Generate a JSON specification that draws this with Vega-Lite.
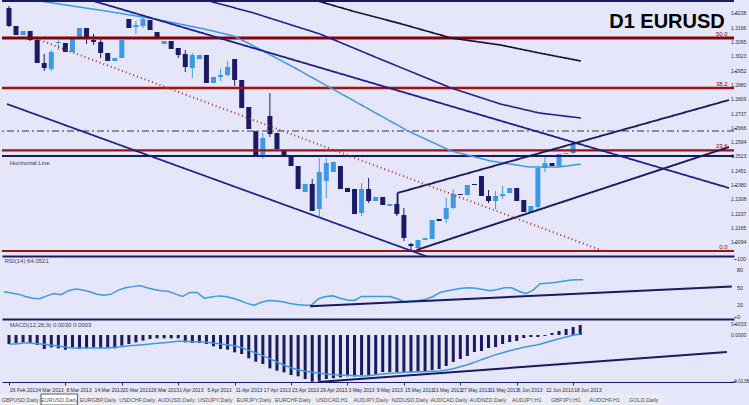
{
  "$schema": "https://vega.github.io/schema/vega-lite/v6.json",
  "background": "#E6E6FA",
  "padding": 0,
  "spacing": 0,
  "config": {"view": {"stroke": null}, "font": "Liberation Sans", "axis": {"labelFont": "Liberation Sans"}},
  "datasets": {
    "candles": [
      {"i":1,"o":1.3265,"h":1.3275,"l":1.3170,"c":1.3175},
      {"i":2,"o":1.3175,"h":1.3175,"l":1.3130,"c":1.3130},
      {"i":3,"o":1.3130,"h":1.3150,"l":1.3130,"c":1.3150},
      {"i":4,"o":1.3150,"h":1.3150,"l":1.3100,"c":1.3105},
      {"i":5,"o":1.3105,"h":1.3110,"l":1.2990,"c":1.2990},
      {"i":6,"o":1.2990,"h":1.3035,"l":1.2950,"c":1.2965},
      {"i":7,"o":1.2960,"h":1.3055,"l":1.2950,"c":1.3045},
      {"i":8,"o":1.3090,"h":1.3115,"l":1.3055,"c":1.3095},
      {"i":9,"o":1.3090,"h":1.3090,"l":1.3045,"c":1.3045},
      {"i":10,"o":1.3045,"h":1.3115,"l":1.3045,"c":1.3110},
      {"i":11,"o":1.3110,"h":1.3165,"l":1.3110,"c":1.3165},
      {"i":12,"o":1.3165,"h":1.3165,"l":1.3085,"c":1.3110},
      {"i":13,"o":1.3105,"h":1.3135,"l":1.3080,"c":1.3095},
      {"i":14,"o":1.3095,"h":1.3110,"l":1.3015,"c":1.3040},
      {"i":15,"o":1.3040,"h":1.3040,"l":1.3000,"c":1.3000},
      {"i":16,"o":1.3000,"h":1.3015,"l":1.3000,"c":1.3015},
      {"i":17,"o":1.3015,"h":1.3105,"l":1.3015,"c":1.3105},
      {"i":18,"o":1.3210,"h":1.3210,"l":1.3165,"c":1.3165},
      {"i":19,"o":1.3170,"h":1.3200,"l":1.3135,"c":1.3180},
      {"i":20,"o":1.3175,"h":1.3225,"l":1.3165,"c":1.3210},
      {"i":21,"o":1.3205,"h":1.3205,"l":1.3155,"c":1.3155},
      {"i":22,"o":1.3145,"h":1.3145,"l":1.3110,"c":1.3110},
      {"i":23,"o":1.3085,"h":1.3100,"l":1.3085,"c":1.3100},
      {"i":24,"o":1.3100,"h":1.3100,"l":1.3060,"c":1.3060},
      {"i":25,"o":1.3065,"h":1.3065,"l":1.3015,"c":1.3030},
      {"i":26,"o":1.3035,"h":1.3055,"l":1.2945,"c":1.2970},
      {"i":27,"o":1.2965,"h":1.3040,"l":1.2915,"c":1.3030},
      {"i":28,"o":1.3010,"h":1.3030,"l":1.3010,"c":1.3030},
      {"i":29,"o":1.3030,"h":1.3030,"l":1.2890,"c":1.2890},
      {"i":30,"o":1.2890,"h":1.2920,"l":1.2890,"c":1.2920},
      {"i":31,"o":1.2920,"h":1.2960,"l":1.2900,"c":1.2930},
      {"i":32,"o":1.2930,"h":1.3000,"l":1.2925,"c":1.2970},
      {"i":33,"o":1.3010,"h":1.3010,"l":1.2875,"c":1.2905},
      {"i":34,"o":1.2905,"h":1.2905,"l":1.2765,"c":1.2765},
      {"i":35,"o":1.2770,"h":1.2770,"l":1.2660,"c":1.2660},
      {"i":36,"o":1.2650,"h":1.2650,"l":1.2525,"c":1.2525},
      {"i":37,"o":1.2525,"h":1.2640,"l":1.2510,"c":1.2615},
      {"i":38,"o":1.2725,"h":1.2840,"l":1.2620,"c":1.2635},
      {"i":39,"o":1.2640,"h":1.2640,"l":1.2560,"c":1.2560},
      {"i":40,"o":1.2555,"h":1.2555,"l":1.2530,"c":1.2530},
      {"i":41,"o":1.2525,"h":1.2525,"l":1.2475,"c":1.2475},
      {"i":42,"o":1.2475,"h":1.2475,"l":1.2360,"c":1.2360},
      {"i":43,"o":1.2345,"h":1.2385,"l":1.2345,"c":1.2385},
      {"i":44,"o":1.2385,"h":1.2410,"l":1.2250,"c":1.2250},
      {"i":45,"o":1.2260,"h":1.2515,"l":1.2225,"c":1.2445},
      {"i":46,"o":1.2400,"h":1.2515,"l":1.2315,"c":1.2490},
      {"i":47,"o":1.2445,"h":1.2495,"l":1.2445,"c":1.2495},
      {"i":48,"o":1.2475,"h":1.2475,"l":1.2360,"c":1.2360},
      {"i":49,"o":1.2365,"h":1.2365,"l":1.2345,"c":1.2345},
      {"i":50,"o":1.2360,"h":1.2360,"l":1.2235,"c":1.2235},
      {"i":51,"o":1.2240,"h":1.2390,"l":1.2225,"c":1.2360},
      {"i":52,"o":1.2360,"h":1.2415,"l":1.2290,"c":1.2300},
      {"i":53,"o":1.2300,"h":1.2320,"l":1.2300,"c":1.2320},
      {"i":54,"o":1.2320,"h":1.2320,"l":1.2280,"c":1.2280},
      {"i":55,"o":1.2275,"h":1.2285,"l":1.2275,"c":1.2285},
      {"i":56,"o":1.2285,"h":1.2285,"l":1.2225,"c":1.2235},
      {"i":57,"o":1.2230,"h":1.2265,"l":1.2100,"c":1.2115},
      {"i":58,"o":1.2085,"h":1.2090,"l":1.2050,"c":1.2075},
      {"i":59,"o":1.2065,"h":1.2105,"l":1.2065,"c":1.2105},
      {"i":60,"o":1.2105,"h":1.2115,"l":1.2105,"c":1.2115},
      {"i":61,"o":1.2110,"h":1.2205,"l":1.2110,"c":1.2205},
      {"i":62,"o":1.2210,"h":1.2210,"l":1.2200,"c":1.2200},
      {"i":63,"o":1.2210,"h":1.2315,"l":1.2190,"c":1.2265},
      {"i":64,"o":1.2265,"h":1.2360,"l":1.2260,"c":1.2335},
      {"i":65,"o":1.2335,"h":1.2335,"l":1.2330,"c":1.2330},
      {"i":66,"o":1.2330,"h":1.2380,"l":1.2330,"c":1.2380},
      {"i":67,"o":1.2385,"h":1.2385,"l":1.2380,"c":1.2380},
      {"i":68,"o":1.2425,"h":1.2425,"l":1.2325,"c":1.2325},
      {"i":69,"o":1.2325,"h":1.2355,"l":1.2290,"c":1.2300},
      {"i":70,"o":1.2300,"h":1.2350,"l":1.2260,"c":1.2325},
      {"i":71,"o":1.2325,"h":1.2375,"l":1.2310,"c":1.2335},
      {"i":72,"o":1.2340,"h":1.2365,"l":1.2340,"c":1.2365},
      {"i":73,"o":1.2365,"h":1.2365,"l":1.2300,"c":1.2300},
      {"i":74,"o":1.2305,"h":1.2305,"l":1.2245,"c":1.2245},
      {"i":75,"o":1.2240,"h":1.2275,"l":1.2240,"c":1.2275},
      {"i":76,"o":1.2270,"h":1.2470,"l":1.2260,"c":1.2465},
      {"i":77,"o":1.2465,"h":1.2520,"l":1.2445,"c":1.2490},
      {"i":78,"o":1.2490,"h":1.2490,"l":1.2475,"c":1.2475},
      {"i":79,"o":1.2475,"h":1.2535,"l":1.2475,"c":1.2535},
      {"i":80,"o":1.2535,"h":1.2540,"l":1.2535,"c":1.2540},
      {"i":81,"o":1.2540,"h":1.2600,"l":1.2535,"c":1.2585},
      {"i":82,"o":1.2583,"h":1.2590,"l":1.2580,"c":1.2586}
    ],
    "osc": [
      {"i":1,"rsi":43,"hist":-0.0027,"sig":-0.0027},
      {"i":2,"rsi":41,"hist":-0.0024,"sig":-0.0027},
      {"i":3,"rsi":39,"hist":-0.0022,"sig":-0.0024},
      {"i":4,"rsi":35,"hist":-0.0024,"sig":-0.0024},
      {"i":5,"rsi":32,"hist":-0.0030,"sig":-0.0026},
      {"i":6,"rsi":31,"hist":-0.0042,"sig":-0.0028},
      {"i":7,"rsi":36,"hist":-0.0037,"sig":-0.0031},
      {"i":8,"rsi":40,"hist":-0.0040,"sig":-0.0033},
      {"i":9,"rsi":38,"hist":-0.0044,"sig":-0.0036},
      {"i":10,"rsi":45,"hist":-0.0037,"sig":-0.0039},
      {"i":11,"rsi":48,"hist":-0.0042,"sig":-0.0039},
      {"i":12,"rsi":46,"hist":-0.0040,"sig":-0.0039},
      {"i":13,"rsi":43,"hist":-0.0037,"sig":-0.0039},
      {"i":14,"rsi":39,"hist":-0.0040,"sig":-0.0039},
      {"i":15,"rsi":37,"hist":-0.0037,"sig":-0.0039},
      {"i":16,"rsi":39,"hist":-0.0040,"sig":-0.0037},
      {"i":17,"rsi":46,"hist":-0.0032,"sig":-0.0035},
      {"i":18,"rsi":50,"hist":-0.0027,"sig":-0.0032},
      {"i":19,"rsi":52,"hist":-0.0022,"sig":-0.0031},
      {"i":20,"rsi":54,"hist":-0.0017,"sig":-0.0029},
      {"i":21,"rsi":50,"hist":-0.0012,"sig":-0.0027},
      {"i":22,"rsi":47,"hist":-0.0010,"sig":-0.0025},
      {"i":23,"rsi":45,"hist":-0.0010,"sig":-0.0023},
      {"i":24,"rsi":44,"hist":-0.0010,"sig":-0.0021},
      {"i":25,"rsi":39,"hist":-0.0010,"sig":-0.0019},
      {"i":26,"rsi":35,"hist":-0.0022,"sig":-0.0019},
      {"i":27,"rsi":42,"hist":-0.0024,"sig":-0.0020},
      {"i":28,"rsi":42,"hist":-0.0024,"sig":-0.0020},
      {"i":29,"rsi":32,"hist":-0.0027,"sig":-0.0022},
      {"i":30,"rsi":34,"hist":-0.0034,"sig":-0.0024},
      {"i":31,"rsi":36,"hist":-0.0042,"sig":-0.0027},
      {"i":32,"rsi":35,"hist":-0.0044,"sig":-0.0029},
      {"i":33,"rsi":32,"hist":-0.0052,"sig":-0.0032},
      {"i":34,"rsi":28,"hist":-0.0057,"sig":-0.0038},
      {"i":35,"rsi":23,"hist":-0.0070,"sig":-0.0046},
      {"i":36,"rsi":20,"hist":-0.0080,"sig":-0.0054},
      {"i":37,"rsi":25,"hist":-0.0087,"sig":-0.0062},
      {"i":38,"rsi":28,"hist":-0.0100,"sig":-0.0071},
      {"i":39,"rsi":27,"hist":-0.0107,"sig":-0.0081},
      {"i":40,"rsi":26,"hist":-0.0112,"sig":-0.0090},
      {"i":41,"rsi":23,"hist":-0.0120,"sig":-0.0098},
      {"i":42,"rsi":21,"hist":-0.0124,"sig":-0.0104},
      {"i":43,"rsi":20,"hist":-0.0132,"sig":-0.0109},
      {"i":44,"rsi":20,"hist":-0.0140,"sig":-0.0112},
      {"i":45,"rsi":31,"hist":-0.0137,"sig":-0.0114},
      {"i":46,"rsi":35,"hist":-0.0132,"sig":-0.0117},
      {"i":47,"rsi":36,"hist":-0.0130,"sig":-0.0119},
      {"i":48,"rsi":32,"hist":-0.0127,"sig":-0.0120},
      {"i":49,"rsi":29,"hist":-0.0124,"sig":-0.0121},
      {"i":50,"rsi":28,"hist":-0.0124,"sig":-0.0122},
      {"i":51,"rsi":35,"hist":-0.0120,"sig":-0.0123},
      {"i":52,"rsi":35,"hist":-0.0122,"sig":-0.0122},
      {"i":53,"rsi":35,"hist":-0.0117,"sig":-0.0119},
      {"i":54,"rsi":35,"hist":-0.0111,"sig":-0.0117},
      {"i":55,"rsi":35,"hist":-0.0111,"sig":-0.0115},
      {"i":56,"rsi":31,"hist":-0.0111,"sig":-0.0114},
      {"i":57,"rsi":26,"hist":-0.0111,"sig":-0.0112},
      {"i":58,"rsi":27,"hist":-0.0111,"sig":-0.0111},
      {"i":59,"rsi":28,"hist":-0.0108,"sig":-0.0110},
      {"i":60,"rsi":30,"hist":-0.0108,"sig":-0.0110},
      {"i":61,"rsi":35,"hist":-0.0105,"sig":-0.0109},
      {"i":62,"rsi":42,"hist":-0.0102,"sig":-0.0108},
      {"i":63,"rsi":45,"hist":-0.0093,"sig":-0.0105},
      {"i":64,"rsi":47,"hist":-0.0081,"sig":-0.0101},
      {"i":65,"rsi":49,"hist":-0.0072,"sig":-0.0095},
      {"i":66,"rsi":50,"hist":-0.0063,"sig":-0.0089},
      {"i":67,"rsi":49,"hist":-0.0051,"sig":-0.0082},
      {"i":68,"rsi":47,"hist":-0.0048,"sig":-0.0074},
      {"i":69,"rsi":45,"hist":-0.0039,"sig":-0.0067},
      {"i":70,"rsi":47,"hist":-0.0036,"sig":-0.0059},
      {"i":71,"rsi":50,"hist":-0.0027,"sig":-0.0053},
      {"i":72,"rsi":50,"hist":-0.0021,"sig":-0.0047},
      {"i":73,"rsi":44,"hist":-0.0018,"sig":-0.0042},
      {"i":74,"rsi":40,"hist":-0.0009,"sig":-0.0037},
      {"i":75,"rsi":46,"hist":-0.0006,"sig":-0.0033},
      {"i":76,"rsi":57,"hist":-0.0006,"sig":-0.0029},
      {"i":77,"rsi":58,"hist":-0.0003,"sig":-0.0023},
      {"i":78,"rsi":59,"hist":0.0006,"sig":-0.0017},
      {"i":79,"rsi":61,"hist":0.0012,"sig":-0.0011},
      {"i":80,"rsi":63,"hist":0.0018,"sig":-0.0006},
      {"i":81,"rsi":64,"hist":0.0024,"sig":-0.0001},
      {"i":82,"rsi":64,"hist":0.0030,"sig":0.0003}
    ],
    "lines": [
      {"id":"ma50","k":0,"i":0.72,"p":1.3325},
      {"id":"ma50","k":1,"i":5.34,"p":1.3300},
      {"id":"ma50","k":2,"i":14.7,"p":1.3250},
      {"id":"ma50","k":3,"i":21.7,"p":1.3210},
      {"id":"ma50","k":4,"i":28.7,"p":1.3160},
      {"id":"ma50","k":5,"i":32.9,"p":1.3125},
      {"id":"ma50","k":6,"i":35.7,"p":1.3075},
      {"id":"ma50","k":7,"i":41.3,"p":1.2970},
      {"id":"ma50","k":8,"i":46.9,"p":1.2860},
      {"id":"ma50","k":9,"i":52.5,"p":1.2750},
      {"id":"ma50","k":10,"i":57.6,"p":1.2650},
      {"id":"ma50","k":11,"i":63.7,"p":1.2550},
      {"id":"ma50","k":12,"i":69.3,"p":1.2500},
      {"id":"ma50","k":13,"i":74.8,"p":1.2470},
      {"id":"ma50","k":14,"i":79.0,"p":1.2470},
      {"id":"ma50","k":15,"i":82.1,"p":1.2485},
      {"id":"ma100","k":0,"i":27.3,"p":1.3325},
      {"id":"ma100","k":1,"i":29.4,"p":1.3300},
      {"id":"ma100","k":2,"i":35.7,"p":1.3240},
      {"id":"ma100","k":3,"i":45.1,"p":1.3135},
      {"id":"ma100","k":4,"i":54.3,"p":1.3000},
      {"id":"ma100","k":5,"i":63.7,"p":1.2865},
      {"id":"ma100","k":6,"i":70.7,"p":1.2785},
      {"id":"ma100","k":7,"i":76.2,"p":1.2740},
      {"id":"ma100","k":8,"i":82.1,"p":1.2715},
      {"id":"ma200","k":0,"i":42.7,"p":1.3320},
      {"id":"ma200","k":1,"i":44.8,"p":1.3300},
      {"id":"ma200","k":2,"i":49.7,"p":1.3250},
      {"id":"ma200","k":3,"i":56.7,"p":1.3185},
      {"id":"ma200","k":4,"i":63.7,"p":1.3115},
      {"id":"ma200","k":5,"i":70.7,"p":1.3080},
      {"id":"ma200","k":6,"i":76.2,"p":1.3040},
      {"id":"ma200","k":7,"i":82.1,"p":1.3000},
      {"id":"tlA","k":0,"i":0.72,"p":1.2785},
      {"id":"tlA","k":1,"i":60.86,"p":1.2015},
      {"id":"tlB","k":0,"i":10.0,"p":1.3331},
      {"id":"tlB","k":1,"i":103.1,"p":1.2365},
      {"id":"chU","k":0,"i":56.1,"p":1.2285},
      {"id":"chU","k":1,"i":56.1,"p":1.2340},
      {"id":"chU","k":2,"i":103.1,"p":1.2805},
      {"id":"chL","k":0,"i":58.8,"p":1.2055},
      {"id":"chL","k":1,"i":103.1,"p":1.2570},
      {"id":"fib","k":0,"i":5.34,"p":1.3105},
      {"id":"fib","k":1,"i":85.3,"p":1.2050}
    ],
    "levels": [
      {"name":"f50","p":1.3115},
      {"name":"f38","p":1.2865},
      {"name":"f23","p":1.2553},
      {"name":"f0","p":1.2050},
      {"name":"hl","p":1.2525},
      {"name":"dd","p":1.2650}
    ],
    "fiblabels": [
      {"t":"50.0","p":1.3115},
      {"t":"38.2","p":1.2865},
      {"t":"23.6","p":1.2553},
      {"t":"0.0","p":1.2050}
    ],
    "priceticks": [
      {"p":1.3238},{"p":1.3166},{"p":1.3095},{"p":1.3023},{"p":1.2952},{"p":1.2880},{"p":1.2809},{"p":1.2737},{"p":1.2666},
      {"p":1.2594},{"p":1.2523},{"p":1.2451},{"p":1.2380},{"p":1.2308},{"p":1.2237},{"p":1.2165},{"p":1.2094}
    ],
    "rsiticks": [{"v":100},{"v":80},{"v":50},{"v":20},{"v":0}],
    "macdticks": [{"v":0.0033},{"v":0},{"v":-0.0138}],
    "dates": [
      {"i":1,"d":"26 Feb 2013"},{"i":5,"d":"4 Mar 2013"},{"i":9,"d":"8 Mar 2013"},{"i":13,"d":"14 Mar 2013"},
      {"i":17,"d":"20 Mar 2013"},{"i":21,"d":"26 Mar 2013"},{"i":25,"d":"1 Apr 2013"},{"i":29,"d":"5 Apr 2013"},
      {"i":33,"d":"11 Apr 2013"},{"i":37,"d":"17 Apr 2013"},{"i":41,"d":"23 Apr 2013"},{"i":45,"d":"29 Apr 2013"},
      {"i":49,"d":"3 May 2013"},{"i":53,"d":"9 May 2013"},{"i":57,"d":"15 May 2013"},{"i":61,"d":"21 May 2013"},
      {"i":65,"d":"27 May 2013"},{"i":69,"d":"31 May 2013"},{"i":73,"d":"6 Jun 2013"},{"i":77,"d":"12 Jun 2013"},
      {"i":81,"d":"18 Jun 2013"}
    ],
    "rsiTL": [{"i":43.8,"v":18.1},{"i":102.8,"v":52.1}],
    "macdTL": [{"i":44.8,"v":-0.0141},{"i":102.8,"v":-0.0051}],
    "tabs": [
      {"tab":"GBPUSD,Daily","active":false},
      {"tab":"EURUSD,Daily","active":true},
      {"tab":"EURGBP,Daily","active":false},
      {"tab":"USDCHF,Daily","active":false},
      {"tab":"AUDUSD,Daily","active":false},
      {"tab":"USDJPY,Daily","active":false},
      {"tab":"EURJPY,Daily","active":false},
      {"tab":"EURCHF,Daily","active":false},
      {"tab":"USDCAD,H1","active":false},
      {"tab":"AUDJPY,Daily","active":false},
      {"tab":"NZDUSD,Daily","active":false},
      {"tab":"AUDCAD,Daily","active":false},
      {"tab":"AUDNZD,Daily","active":false},
      {"tab":"AUDJPY,H1","active":false},
      {"tab":"GBPJPY,H1","active":false},
      {"tab":"AUDCHF,H1","active":false},
      {"tab":"GOLD,Daily","active":false}
    ]
  },
  "vconcat": [
    {
      "width": 732,
      "height": 255,
      "resolve": {"scale": {"color": "independent", "strokeWidth": "independent", "strokeDash": "independent"}},
      "layer": [
        {
          "data": {"name": "candles"},
          "mark": {"type": "rule", "strokeWidth": 1, "clip": true},
          "encoding": {
            "x": {"field": "i", "type": "quantitative", "scale": {"domain": [0.72, 103.1], "nice": false, "zero": false},
                  "axis": {"orient": "bottom", "labels": false, "ticks": false, "domain": true, "domainColor": "#1A1A5E", "domainWidth": 2, "grid": false, "title": null}},
            "y": {"field": "l", "type": "quantitative", "scale": {"domain": [1.2025, 1.33], "nice": false, "zero": false},
                  "axis": {"orient": "right", "values": [1.3238,1.3166,1.3095,1.3023,1.2952,1.2880,1.2809,1.2737,1.2666,1.2594,1.2523,1.2451,1.2380,1.2308,1.2237,1.2165,1.2094],
                           "labels": false, "tickSize": 2, "tickColor": "#303030", "domain": false, "grid": false, "title": null}},
            "y2": {"field": "h"},
            "color": {"condition": {"test": "datum.c > datum.o", "value": "#3C9AE4"}, "value": "#1A1A66"}
          }
        },
        {
          "data": {"name": "candles"},
          "mark": {"type": "bar", "size": 5, "clip": true},
          "encoding": {
            "x": {"field": "i", "type": "quantitative"},
            "y": {"field": "o", "type": "quantitative"},
            "y2": {"field": "c"},
            "color": {"condition": {"test": "datum.c > datum.o", "value": "#3C9AE4"}, "value": "#1A1A66"}
          }
        },
        {
          "data": {"name": "levels"},
          "mark": {"type": "rule"},
          "encoding": {
            "y": {"field": "p", "type": "quantitative"},
            "color": {"field": "name", "type": "nominal", "legend": null,
                      "scale": {"domain": ["f50","f38","f23","f0","hl","dd"], "range": ["#8B0000","#A01010","#A01010","#A01010","#1A1A5E","#707080"]}},
            "strokeWidth": {"field": "name", "type": "nominal", "legend": null,
                      "scale": {"domain": ["f50","f38","f23","f0","hl","dd"], "range": [3,1.5,1.5,1.5,3,1]}},
            "strokeDash": {"field": "name", "type": "nominal", "legend": null,
                      "scale": {"domain": ["f50","f38","f23","f0","hl","dd"], "range": [[1,0],[1,0],[1,0],[1,0],[1,0],[7,3,2,3]]}}
          }
        },
        {
          "data": {"name": "lines"},
          "mark": {"type": "line", "clip": true},
          "encoding": {
            "x": {"field": "i", "type": "quantitative"},
            "y": {"field": "p", "type": "quantitative"},
            "order": {"field": "k", "type": "quantitative"},
            "detail": {"field": "id", "type": "nominal"},
            "color": {"field": "id", "type": "nominal", "legend": null,
                      "scale": {"domain": ["ma50","ma100","ma200","tlA","tlB","chU","chL","fib"], "range": ["#3C9AE4","#1E1E8C","#14142A","#1E1E8C","#1E1E8C","#1A1A5E","#1A1A5E","#B03030"]}},
            "strokeWidth": {"field": "id", "type": "nominal", "legend": null,
                      "scale": {"domain": ["ma50","ma100","ma200","tlA","tlB","chU","chL","fib"], "range": [1.5,2,1.5,2,2,1.5,1.5,1]}},
            "strokeDash": {"field": "id", "type": "nominal", "legend": null,
                      "scale": {"domain": ["ma50","ma100","ma200","tlA","tlB","chU","chL","fib"], "range": [[1,0],[1,0],[1,0],[1,0],[1,0],[1,0],[1,0],[1,3]]}}
          }
        },
        {
          "data": {"values": [{"edge": 1.33}]},
          "mark": {"type": "rule", "strokeWidth": 2, "color": "#1A1A5E"},
          "encoding": {
            "y": {"field": "edge", "type": "quantitative"}
          }
        },
        {
          "data": {"name": "priceticks"},
          "mark": {"type": "text", "align": "left", "baseline": "middle", "dx": 2, "fontSize": 5, "color": "#303030"},
          "encoding": {
            "x": {"datum": 103.1, "type": "quantitative"},
            "y": {"field": "p", "type": "quantitative"},
            "text": {"field": "p", "type": "quantitative", "format": ".4f"}
          }
        },
        {
          "data": {"name": "fiblabels"},
          "mark": {"type": "text", "align": "right", "baseline": "bottom", "dy": -1, "fontSize": 6, "color": "#8B0000"},
          "encoding": {
            "x": {"datum": 102.9, "type": "quantitative"},
            "y": {"field": "p", "type": "quantitative"},
            "text": {"field": "t"}
          }
        },
        {
          "data": {"values": [{"t": "D1 EURUSD"}]},
          "mark": {"type": "text", "align": "right", "baseline": "middle", "fontSize": 20, "fontWeight": "bold", "font": "Liberation Sans", "color": "#000000"},
          "encoding": {
            "x": {"datum": 102.5, "type": "quantitative"},
            "y": {"datum": 1.3197, "type": "quantitative"},
            "text": {"field": "t"}
          }
        },
        {
          "data": {"values": [{"t": "Horizontal Line"}]},
          "mark": {"type": "text", "align": "left", "baseline": "middle", "fontSize": 6, "color": "#404050"},
          "encoding": {
            "x": {"datum": 1.1, "type": "quantitative"},
            "y": {"datum": 1.2490, "type": "quantitative"},
            "text": {"field": "t"}
          }
        }
      ]
    },
    {
      "width": 732,
      "height": 63,
      "layer": [
        {
          "data": {"name": "osc"},
          "mark": {"type": "line", "strokeWidth": 1.5, "color": "#3C9AE4", "clip": true},
          "encoding": {
            "x": {"field": "i", "type": "quantitative", "scale": {"domain": [0.72, 103.1], "nice": false, "zero": false},
                  "axis": {"orient": "bottom", "labels": false, "ticks": false, "domain": true, "domainColor": "#1A1A5E", "domainWidth": 2, "grid": false, "title": null}},
            "y": {"field": "rsi", "type": "quantitative", "scale": {"domain": [-4, 105], "nice": false, "zero": false},
                  "axis": {"orient": "right", "values": [0, 20, 50, 80, 100], "labels": false, "tickSize": 2, "tickColor": "#303030", "domain": false, "grid": false, "title": null}}
          }
        },
        {
          "data": {"name": "rsiTL"},
          "mark": {"type": "line", "strokeWidth": 2, "color": "#1A1A5E", "clip": true},
          "encoding": {
            "x": {"field": "i", "type": "quantitative"},
            "y": {"field": "v", "type": "quantitative"}
          }
        },
        {
          "data": {"name": "rsiticks"},
          "mark": {"type": "text", "align": "left", "baseline": "middle", "dx": 3, "fontSize": 5.5, "color": "#303030"},
          "encoding": {
            "x": {"datum": 103.1, "type": "quantitative"},
            "y": {"field": "v", "type": "quantitative"},
            "text": {"field": "v", "type": "quantitative"}
          }
        },
        {
          "data": {"values": [{"t": "RSI(14) 64.0521"}]},
          "mark": {"type": "text", "align": "left", "baseline": "middle", "fontSize": 6, "color": "#404050"},
          "encoding": {
            "x": {"datum": 1.1, "type": "quantitative"},
            "y": {"datum": 96, "type": "quantitative"},
            "text": {"field": "t"}
          }
        }
      ]
    },
    {
      "width": 732,
      "height": 61,
      "layer": [
        {
          "data": {"name": "osc"},
          "mark": {"type": "bar", "size": 3, "color": "#1A1A5E", "clip": true},
          "encoding": {
            "x": {"field": "i", "type": "quantitative", "scale": {"domain": [0.72, 103.1], "nice": false, "zero": false},
                  "axis": {"orient": "bottom", "values": [1,5,9,13,17,21,25,29,33,37,41,45,49,53,57,61,65,69,73,77,81],
                           "labels": false, "tickSize": 3, "tickColor": "#303030", "domain": true, "domainColor": "#1A1A5E", "domainWidth": 1, "grid": false, "title": null}},
            "y": {"field": "hist", "type": "quantitative", "scale": {"domain": [-0.0141, 0.0042], "nice": false, "zero": false},
                  "axis": {"orient": "right", "values": [0.0033, 0, -0.0138], "labels": false, "tickSize": 2, "tickColor": "#303030", "domain": false, "grid": false, "title": null}},
            "y2": {"datum": 0}
          }
        },
        {
          "data": {"name": "osc"},
          "mark": {"type": "line", "strokeWidth": 1.5, "color": "#3C9AE4", "clip": true},
          "encoding": {
            "x": {"field": "i", "type": "quantitative"},
            "y": {"field": "sig", "type": "quantitative"}
          }
        },
        {
          "data": {"name": "macdTL"},
          "mark": {"type": "line", "strokeWidth": 2, "color": "#1A1A5E", "clip": true},
          "encoding": {
            "x": {"field": "i", "type": "quantitative"},
            "y": {"field": "v", "type": "quantitative"}
          }
        },
        {
          "data": {"name": "macdticks"},
          "mark": {"type": "text", "align": "left", "baseline": "middle", "dx": 2, "fontSize": 5, "color": "#303030"},
          "encoding": {
            "x": {"datum": 103.1, "type": "quantitative"},
            "y": {"field": "v", "type": "quantitative"},
            "text": {"field": "v", "type": "quantitative", "format": ".4f"}
          }
        },
        {
          "data": {"name": "dates"},
          "mark": {"type": "text", "align": "left", "baseline": "middle", "dx": 1, "dy": 8, "fontSize": 5, "color": "#303030"},
          "encoding": {
            "x": {"field": "i", "type": "quantitative"},
            "y": {"datum": -0.0141, "type": "quantitative"},
            "text": {"field": "d"}
          }
        },
        {
          "data": {"values": [{"t": "MACD(12,26,9) 0.0030 0.0003"}]},
          "mark": {"type": "text", "align": "left", "baseline": "middle", "fontSize": 6, "color": "#404050"},
          "encoding": {
            "x": {"datum": 1.1, "type": "quantitative"},
            "y": {"datum": 0.0031, "type": "quantitative"},
            "text": {"field": "t"}
          }
        }
      ]
    },
    {
      "width": 660,
      "height": 11,
      "data": {"name": "tabs"},
      "layer": [
        {
          "mark": {"type": "bar"},
          "encoding": {
            "x": {"field": "tab", "type": "nominal", "sort": null, "scale": {"paddingInner": 0.06, "paddingOuter": 0}, "axis": null},
            "fill": {"condition": {"test": "datum.active", "value": "#FFFFFF"}, "value": "#ECECF2"},
            "stroke": {"condition": {"test": "datum.active", "value": "#606060"}, "value": "#ECECF2"}
          }
        },
        {
          "mark": {"type": "text", "fontSize": 5.5, "color": "#505050", "baseline": "middle"},
          "encoding": {
            "x": {"field": "tab", "type": "nominal", "sort": null, "axis": null},
            "text": {"field": "tab"}
          }
        }
      ]
    }
  ]
}
